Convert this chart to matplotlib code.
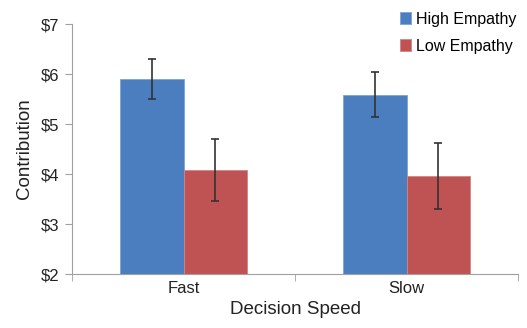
import matplotlib.pyplot as plt
import numpy as np

plt.rcParams['font.family'] = ['Liberation Sans', 'DejaVu Sans']

categories = ["Fast", "Slow"]
high_empathy = [5.90, 5.59]
high_err = [0.40, 0.45]
low_empathy = [4.08, 3.97]
low_err = [0.61, 0.66]

fig = plt.figure(figsize=(5.27, 3.28), dpi=100)
ax = fig.add_axes([72 / 527, 1 - 274 / 328, (518 - 72) / 527, 250 / 328])

x = np.arange(len(categories))
w = 0.285
err_kw = dict(ecolor="#333333", elinewidth=1.2, capsize=3, capthick=1.2)
ax.bar(x - w / 2, high_empathy, w, yerr=high_err, color="#4a7ebf",
       edgecolor="#7fa3d3", linewidth=0.6, label="High Empathy", error_kw=err_kw)
ax.bar(x + w / 2, low_empathy, w, yerr=low_err, color="#bf5354",
       edgecolor="#d08586", linewidth=0.6, label="Low Empathy", error_kw=err_kw)

ax.set_ylim(2, 7)
ax.set_xlim(-0.5, 1.5)
ax.set_yticks(range(2, 8))
ax.set_yticklabels([f"${v}" for v in range(2, 8)], fontsize=12, color="#222222")
ax.set_xticks(x)
ax.set_xticklabels(categories, fontsize=12, color="#222222")
ax.set_xticks([-0.5, 0.5, 1.5], minor=True)
ax.tick_params(axis="x", which="major", length=0, pad=5)
ax.tick_params(axis="x", which="minor", length=5, color="#a0a0a0", direction="out")
ax.tick_params(axis="y", length=5, color="#a0a0a0", direction="out", pad=4)

for s in ["top", "right"]:
    ax.spines[s].set_visible(False)
for s in ["left", "bottom"]:
    ax.spines[s].set_color("#a0a0a0")

ax.set_xlabel("Decision Speed", fontsize=13.5, color="#222222", labelpad=4)
ax.set_ylabel("Contribution", fontsize=13.5, color="#222222", labelpad=6)

ax.legend(loc="upper right", bbox_to_anchor=(1.01, 1.075), frameon=False,
          fontsize=11.5, handlelength=0.7, handleheight=0.7, handletextpad=0.3,
          labelspacing=0.75, borderaxespad=0)

fig.savefig("out.png", dpi=100)
